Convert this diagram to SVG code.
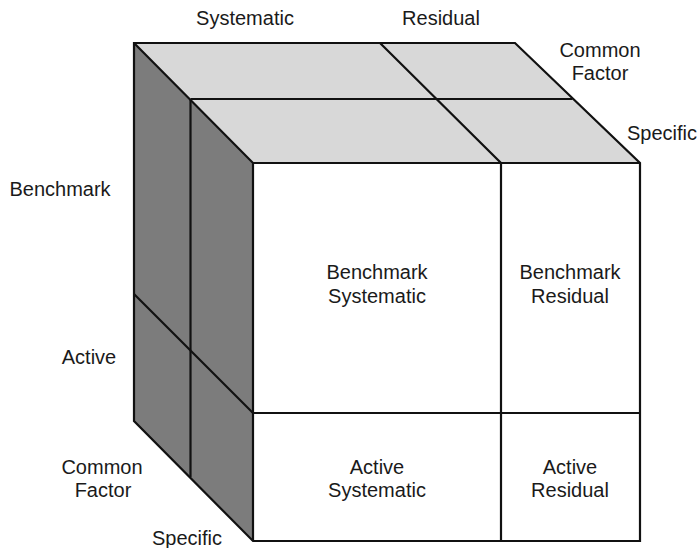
<svg xmlns="http://www.w3.org/2000/svg" width="700" height="548" viewBox="0 0 700 548">
<style>
.ln{stroke:#111;stroke-width:2.2;fill:none;stroke-linejoin:miter}
.top{fill:#d8d8d8}
.side{fill:#7c7c7c}
.front{fill:#ffffff}
text{font-family:"Liberation Sans",Arial,sans-serif;font-size:20px;fill:#1a1a1a;text-anchor:middle}
</style>
<g id="cube">
<g id="top-face">
<polygon class="top" points="134,43 515,43 640,163 253,163"/>
</g>
<g id="left-face">
<polygon class="side" points="134,43 253,163 253,541 134,421"/>
</g>
<g id="front-face">
<rect class="front" x="253" y="163" width="387" height="378"/>
</g>
</g>
<g id="connectors">
<polygon class="ln" points="134,43 515,43 640,163 640,541 253,541 134,421"/>
<path class="ln" d="M134,43 L253,163 L640,163 M253,163 L253,541"/>
<path class="ln" d="M190.5,99 L572.5,99 M190.5,99 L190.5,477"/>
<path class="ln" d="M380,43 L501,163 L501,541"/>
<path class="ln" d="M134,294 L253,413 L640,413"/>
</g>
<g id="node-benchmark-systematic"><text x="377" y="279">Benchmark</text><text x="377" y="303">Systematic</text></g>
<g id="node-benchmark-residual"><text x="570" y="279">Benchmark</text><text x="570" y="303">Residual</text></g>
<g id="node-active-systematic"><text x="377" y="474">Active</text><text x="377" y="497">Systematic</text></g>
<g id="node-active-residual"><text x="570" y="474">Active</text><text x="570" y="497">Residual</text></g>
<g id="labels">
<text x="245" y="25">Systematic</text>
<text x="441" y="25">Residual</text>
<text x="600" y="57">Common</text>
<text x="600" y="80">Factor</text>
<text x="662" y="140">Specific</text>
<text x="60" y="196">Benchmark</text>
<text x="89" y="364">Active</text>
<text x="102" y="474">Common</text>
<text x="103" y="497">Factor</text>
<text x="187" y="545">Specific</text>
</g>
</svg>
